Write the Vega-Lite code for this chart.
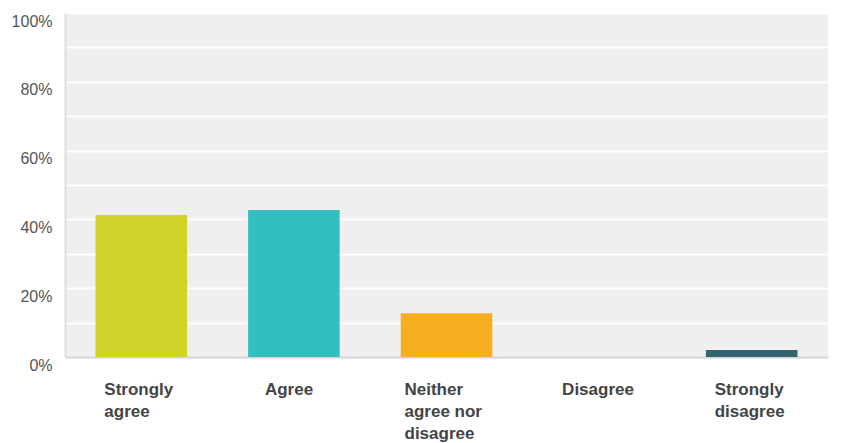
{
  "$schema": "https://vega.github.io/schema/vega-lite/v6.json",
  "autosize": "none",
  "width": 763,
  "height": 344,
  "padding": {"left": 65, "top": 13, "right": 37, "bottom": 86},
  "background": "white",
  "config": {
    "view": {"fill": "#efefef", "stroke": null},
    "font": "Liberation Sans"
  },
  "data": {
    "values": [
      {"answer": "Strongly agree", "share": 0.413, "color": "#cfd32a"},
      {"answer": "Agree", "share": 0.427, "color": "#33bec0"},
      {"answer": "Neither agree nor disagree", "share": 0.127, "color": "#f7ae1f"},
      {"answer": "Disagree", "share": 0.0, "color": "#888888"},
      {"answer": "Strongly disagree", "share": 0.02, "color": "#336471"}
    ]
  },
  "mark": {"type": "bar"},
  "encoding": {
    "x": {
      "field": "answer",
      "type": "nominal",
      "sort": null,
      "scale": {"paddingInner": 0.4, "paddingOuter": 0.2},
      "axis": {
        "title": null,
        "labelAngle": 0,
        "labelAlign": "left",
        "labelBaseline": "top",
        "labelFontWeight": "bold",
        "labelFontSize": 17,
        "labelLineHeight": 22,
        "labelColor": "#444444",
        "labelPadding": 24,
        "labelOffset": {
          "condition": [
            {"test": "datum.value == 'Agree'", "value": -29},
            {"test": "datum.value == 'Neither agree nor disagree'", "value": -42}
          ],
          "value": -37
        },
        "labelExpr": "datum.label == 'Neither agree nor disagree' ? ['Neither', 'agree nor', 'disagree'] : split(datum.label, ' ')",
        "ticks": false,
        "domainColor": "#d4d4d4",
        "domainWidth": 2,
        "grid": false
      }
    },
    "y": {
      "field": "share",
      "type": "quantitative",
      "scale": {"domain": [0, 1], "nice": false},
      "axis": {
        "title": null,
        "values": [0, 0.1, 0.2, 0.3, 0.4, 0.5, 0.6, 0.7, 0.8, 0.9, 1],
        "labelExpr": "round(datum.value * 10) % 2 == 0 ? format(datum.value, '.0%') : ''",
        "labelFontSize": 16,
        "labelColor": "#555555",
        "labelPadding": 13,
        "labelOffset": 8,
        "ticks": false,
        "grid": true,
        "gridColor": "#ffffff",
        "gridWidth": 2,
        "domainColor": "#dedede",
        "domainWidth": 2
      }
    },
    "color": {"field": "color", "type": "nominal", "scale": null, "legend": null}
  }
}
